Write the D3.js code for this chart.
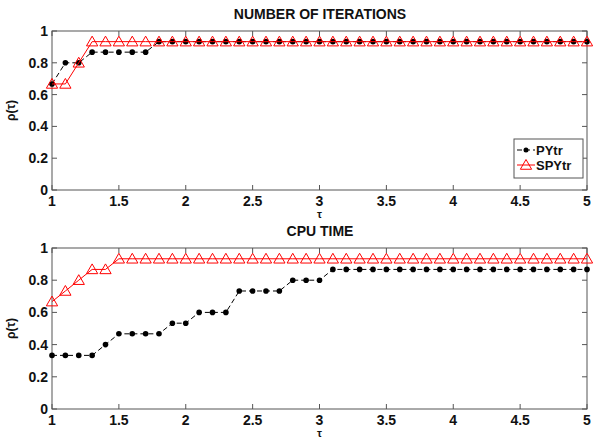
<!DOCTYPE html>
<html>
<head>
<meta charset="utf-8">
<script src="https://d3js.org/d3.v7.min.js"></script>
<style>
    body { margin: 0; background: #fff; }
    svg text { font-family: "Liberation Sans", Arial, sans-serif; font-weight: bold; fill: #111; }
</style>
</head>
<body>
<div id="chart"></div>
<script>
    // tau grid, 1 to 5 in steps of 0.1
    const taus = d3.range(0, 41).map(i => +(1 + i * 0.1).toFixed(1));

    // number of iterations profile
    const iterPYtr = [0.667, 0.8, 0.8, 0.867, 0.867, 0.867, 0.867, 0.867].concat(Array(33).fill(0.933));
    const iterSPYtr = [0.667, 0.667, 0.8].concat(Array(38).fill(0.933));

    // cpu time profile
    const cpuPYtr = [0.333, 0.333, 0.333, 0.333, 0.4, 0.467, 0.467, 0.467, 0.467,
        0.533, 0.533, 0.6, 0.6, 0.6, 0.733, 0.733, 0.733, 0.733, 0.8, 0.8, 0.8]
        .concat(Array(20).fill(0.867));
    const cpuSPYtr = [0.667, 0.733, 0.8, 0.867, 0.867].concat(Array(36).fill(0.933));

    const xTicks = [1, 1.5, 2, 2.5, 3, 3.5, 4, 4.5, 5];
    const yTicks = [0, 0.2, 0.4, 0.6, 0.8, 1];
    const seriesNames = ["PYtr", "SPYtr"];

    const W = 594, H = 440;
    const svg = d3.select("#chart").append("svg")
        .attr("width", W).attr("height", H);

    const x = d3.scaleLinear().domain([1, 5]).range([52, 587]);

    const panels = [
        {title: "NUMBER OF ITERATIONS", top: 31, bottom: 190, a: iterPYtr, b: iterSPYtr, legend: true},
        {title: "CPU TIME", top: 248, bottom: 409, a: cpuPYtr, b: cpuSPYtr, legend: false}
    ];

    const tri = d3.symbol().type(d3.symbolTriangle).size(55);

    panels.forEach(p => {
        const y = d3.scaleLinear().domain([0, 1]).range([p.bottom, p.top]);
        const g = svg.append("g");

        // frame
        g.append("rect")
            .attr("x", x(1)).attr("y", y(1))
            .attr("width", x(5) - x(1)).attr("height", y(0) - y(1))
            .attr("fill", "none").attr("stroke", "#555").attr("stroke-width", 1);

        // ticks pointing inward on all sides
        const tk = 5;
        xTicks.forEach(t => {
            g.append("line").attr("x1", x(t)).attr("x2", x(t))
                .attr("y1", y(0)).attr("y2", y(0) - tk).attr("stroke", "#555");
            g.append("line").attr("x1", x(t)).attr("x2", x(t))
                .attr("y1", y(1)).attr("y2", y(1) + tk).attr("stroke", "#555");
            g.append("text").attr("x", x(t)).attr("y", y(0) + 16)
                .attr("text-anchor", "middle").attr("font-size", 14).text(t);
        });
        yTicks.forEach(t => {
            g.append("line").attr("x1", x(1)).attr("x2", x(1) + tk)
                .attr("y1", y(t)).attr("y2", y(t)).attr("stroke", "#555");
            g.append("line").attr("x1", x(5)).attr("x2", x(5) - tk)
                .attr("y1", y(t)).attr("y2", y(t)).attr("stroke", "#555");
            g.append("text").attr("x", x(1) - 4).attr("y", y(t) + 5)
                .attr("text-anchor", "end").attr("font-size", 14).text(t);
        });

        g.append("text").attr("x", 320).attr("y", p.top - 12)
            .attr("text-anchor", "middle").attr("font-size", 14).text(p.title);
        g.append("text").attr("x", x(3)).attr("y", y(0) + 28)
            .attr("text-anchor", "middle").attr("font-size", 11).attr("font-weight", "normal").text("τ");
        g.append("text")
            .attr("transform", `translate(15,${(y(0) + y(1)) / 2}) rotate(-90)`)
            .attr("text-anchor", "middle").attr("font-size", 12).attr("font-weight", "normal").text("ρ(τ)");

        const line = d3.line().x((d, i) => x(taus[i])).y(d => y(d));

        // PYtr: black dashed with dots
        g.append("path").datum(p.a).attr("d", line)
            .attr("fill", "none").attr("stroke", "#000").attr("stroke-width", 1)
            .attr("stroke-dasharray", "5,3");
        g.selectAll(".dot").data(p.a).enter().append("circle")
            .attr("cx", (d, i) => x(taus[i])).attr("cy", d => y(d))
            .attr("r", 2.8).attr("fill", "#000");

        // SPYtr: red solid with open triangles
        g.append("path").datum(p.b).attr("d", line)
            .attr("fill", "none").attr("stroke", "#f00").attr("stroke-width", 1);
        g.selectAll(".tri").data(p.b).enter().append("path")
            .attr("d", tri)
            .attr("transform", (d, i) => `translate(${x(taus[i])},${y(d) + 1})`)
            .attr("fill", "none").attr("stroke", "#f00").attr("stroke-width", 1);

        if (p.legend) {
            const lg = g.append("g");
            lg.append("rect").attr("x", 514).attr("y", 139).attr("width", 69).attr("height", 39)
                .attr("fill", "#fff").attr("stroke", "#555");
            seriesNames.forEach((name, i) => {
                const ly = 150 + i * 15;
                if (i === 0) {
                    lg.append("line").attr("x1", 517).attr("x2", 535).attr("y1", ly).attr("y2", ly)
                        .attr("stroke", "#000").attr("stroke-dasharray", "5,3");
                    lg.append("circle").attr("cx", 526).attr("cy", ly).attr("r", 2.5).attr("fill", "#000");
                } else {
                    lg.append("line").attr("x1", 517).attr("x2", 535).attr("y1", ly).attr("y2", ly)
                        .attr("stroke", "#f00");
                    lg.append("path").attr("d", tri).attr("transform", `translate(526,${ly + 1})`)
                        .attr("fill", "none").attr("stroke", "#f00");
                }
                lg.append("text").attr("x", 536).attr("y", ly + 4.5)
                    .attr("font-size", 13).text(name);
            });
        }
    });
</script>
</body>
</html>
